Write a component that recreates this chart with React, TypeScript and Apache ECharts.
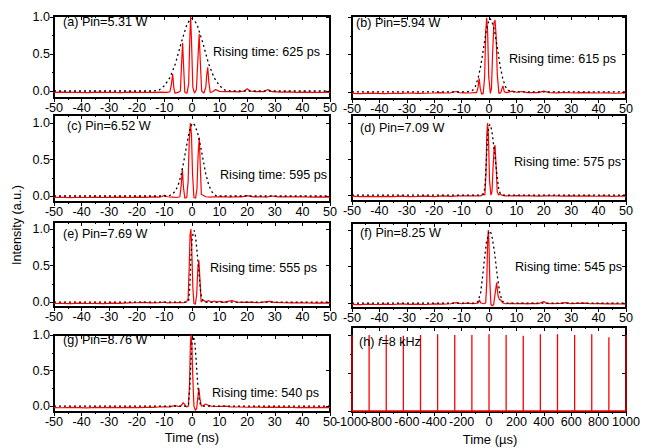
import React, { useEffect, useRef } from "react";
import * as echarts from "echarts";

const FONT = "'Liberation Sans', Arial, Helvetica, sans-serif";
const FS = 12.6;

// ---------- text / categories ----------
const panelLabels = [
  "(a) Pin=5.31 W",
  "(b) Pin=5.94 W",
  "(c) Pin=6.52 W",
  "(d) Pin=7.09 W",
  "(e) Pin=7.69 W",
  "(f) Pin=8.25 W",
  "(g) Pin=8.76 W",
];
const risingTimes = ["625 ps", "615 ps", "595 ps", "575 ps", "555 ps", "545 ps", "540 ps"];
const yMajorTicks = [0, 0.5, 1.0];
const yMinorTicks = [0.25, 0.75];
const usLabelsA = [-1000, -600, -200, 200, 600, 1000];
const usLabelsB = [-800, -400, 0, 400, 800];

// ---------- measured pulse traces (time ns, intensity) ----------
const redA: [number, number][] = [
  [-50, -0.02], [-47, -0.015], [-44, -0.02], [-41, -0.018], [-38, -0.022], [-35, -0.015], [-32, -0.02],
  [-29, -0.017], [-26, -0.022], [-23, -0.015], [-20, -0.02], [-17, -0.018], [-14, -0.02], [-11, -0.015],
  [-9, -0.02], [-8, -0.01], [-7.5, 0.08], [-7.0, 0.23], [-6.6, 0.05], [-6.2, -0.03], [-5, -0.02],
  [-4.2, 0.0], [-3.8, 0.35], [-3.4, 0.65], [-3.0, 0.3], [-2.6, -0.02], [-1.8, -0.03], [-1.2, 0.1],
  [-0.8, 0.7], [-0.5, 1.0], [-0.2, 0.7], [0.3, 0.05], [0.9, -0.03], [1.6, 0.02], [2.1, 0.4], [2.6, 0.77],
  [3.0, 0.4], [3.5, 0.0], [4.3, -0.03], [5.0, 0.05], [5.3, 0.2], [5.7, 0.32], [6.1, 0.12], [6.6, -0.02],
  [7.5, -0.01], [8.5, 0.02], [10, -0.005], [12, -0.01], [15, -0.01], [17, -0.012], [19, 0.0], [20, 0.03],
  [21, 0.0], [23, -0.01], [26, -0.01], [27.5, 0.02], [29, -0.01], [32, -0.015], [35, -0.012], [38, -0.018],
  [41, -0.015], [44, -0.02], [47, -0.018], [50, -0.02],
];
const dashA: [number, number][] = [
  [-50, 0], [-14, 0], [-12, 0.01], [-10, 0.07], [-8, 0.18], [-6, 0.37], [-4, 0.64], [-2, 0.88], [-1, 0.95],
  [0, 0.98], [1, 0.95], [2, 0.88], [4, 0.64], [6, 0.37], [8, 0.18], [10, 0.07], [12, 0.01], [14, 0], [50, 0],
];

const redB: [number, number][] = [
  [-50, -0.02], [-47, -0.022], [-44, -0.017], [-41, -0.02], [-38, -0.024], [-35, -0.018], [-32, -0.02],
  [-29, -0.015], [-26, -0.02], [-23, -0.018], [-20, -0.015], [-18, -0.01], [-16, -0.015], [-14, -0.012],
  [-12, 0.005], [-11, -0.01], [-9, -0.012], [-7, -0.015], [-5.5, -0.01], [-4.5, -0.01], [-4.0, 0.06],
  [-3.6, 0.18], [-3.2, 0.05], [-2.7, -0.03], [-2.1, -0.02], [-1.6, 0.2], [-1.2, 0.8], [-0.85, 0.99],
  [-0.5, 0.8], [-0.1, 0.2], [0.5, -0.02], [0.9, 0.05], [1.3, 0.5], [1.8, 0.92], [2.2, 0.96], [2.6, 0.75],
  [3.0, 0.25], [3.6, -0.02], [4.3, -0.01], [4.8, 0.05], [5.1, 0.08], [5.6, 0.0], [6.5, -0.01], [7.5, 0.0],
  [8.5, 0.01], [10, -0.005], [12, 0.005], [14, -0.01], [16, -0.008], [18, -0.01], [20, 0.01], [22, -0.01],
  [25, -0.012], [28, -0.008], [31, -0.015], [34, -0.01], [37, -0.012], [40, -0.015], [43, -0.012],
  [46, -0.018], [50, -0.015],
];
const dashB: [number, number][] = [
  [-50, 0], [-8, 0], [-6, 0.02], [-5, 0.07], [-4, 0.18], [-3, 0.35], [-2, 0.58], [-1, 0.82], [0, 0.96],
  [0.4, 0.98], [1, 0.95], [2, 0.82], [3, 0.6], [4, 0.36], [5, 0.18], [6, 0.07], [7, 0.02], [9, 0], [50, 0],
];

const redC: [number, number][] = [
  [-50, -0.02], [-47, -0.018], [-44, -0.022], [-41, -0.017], [-38, -0.02], [-35, -0.015], [-32, -0.02],
  [-29, -0.018], [-26, -0.015], [-23, -0.02], [-20, -0.016], [-17, -0.018], [-14, -0.012], [-12, -0.015],
  [-11, -0.01], [-10, 0.01], [-9, -0.01], [-7, -0.015], [-5.5, -0.02], [-4.4, -0.01], [-3.9, 0.15],
  [-3.5, 0.37], [-3.1, 0.12], [-2.6, -0.03], [-1.9, -0.02], [-1.4, 0.2], [-1.0, 0.75], [-0.6, 1.0],
  [-0.2, 0.85], [0.2, 0.3], [0.7, -0.02], [1.3, -0.03], [1.8, 0.1], [2.2, 0.55], [2.65, 0.8], [3.0, 0.4],
  [3.4, 0.02], [4.0, 0.01], [5, -0.01], [6.5, -0.015], [8, -0.01], [10, -0.012], [12, -0.01], [14, -0.015],
  [16, -0.01], [18, -0.012], [20, 0.005], [22, -0.012], [25, -0.01], [27, -0.015], [29, 0.0], [31, -0.012],
  [34, -0.01], [37, -0.012], [40, -0.01], [43, -0.015], [46, -0.012], [50, -0.015],
];
const dashC: [number, number][] = [
  [-50, 0], [-9, 0], [-8, 0.01], [-7, 0.03], [-6, 0.07], [-5, 0.15], [-4, 0.28], [-3, 0.47], [-2, 0.68],
  [-1, 0.88], [0, 0.99], [0.3, 1.0], [1, 0.97], [2, 0.87], [3, 0.7], [4, 0.5], [5, 0.3], [6, 0.16],
  [7, 0.07], [8, 0.02], [9, 0], [50, 0],
];

const redD: [number, number][] = [
  [-50, -0.015], [-47, -0.02], [-44, -0.017], [-41, -0.022], [-38, -0.018], [-35, -0.02], [-32, -0.015],
  [-29, -0.02], [-26, -0.018], [-23, -0.015], [-20, -0.02], [-17, -0.012], [-14, -0.018], [-11, -0.01],
  [-8, -0.01], [-5, -0.012], [-3, -0.01], [-2, 0.01], [-1.5, 0.0], [-1.1, 0.3], [-0.8, 0.85], [-0.5, 1.0],
  [-0.2, 0.8], [0.2, 0.2], [0.7, 0.0], [1.1, 0.05], [1.5, 0.4], [1.9, 0.66], [2.2, 0.69], [2.6, 0.4],
  [3.0, 0.05], [3.5, 0.0], [4, 0.015], [5, -0.005], [6, -0.01], [8, -0.012], [10, -0.008], [12, -0.012],
  [15, -0.01], [18, -0.015], [21, -0.01], [24, -0.012], [27, -0.015], [30, -0.01], [33, -0.015],
  [36, -0.012], [39, -0.016], [42, -0.012], [45, -0.018], [48, -0.014], [50, -0.016],
];
const dashD: [number, number][] = [
  [-50, 0], [-3, 0], [-2, 0.02], [-1.5, 0.1], [-1, 0.45], [-0.5, 0.82], [0, 0.96], [0.4, 0.98], [1, 0.9],
  [1.5, 0.76], [2, 0.58], [2.5, 0.42], [3, 0.25], [3.5, 0.1], [4, 0.03], [5, 0], [50, 0],
];

const redE: [number, number][] = [
  [-50, -0.02], [-47, -0.018], [-44, -0.022], [-41, -0.015], [-38, -0.02], [-35, -0.017], [-32, -0.021],
  [-29, -0.015], [-26, -0.018], [-23, -0.012], [-20, -0.01], [-18, -0.005], [-15, -0.012], [-12, -0.01],
  [-10, 0.0], [-9, -0.012], [-7, -0.01], [-5, -0.008], [-3, -0.01], [-2, 0.0], [-1.4, 0.05], [-1.0, 0.5],
  [-0.7, 0.92], [-0.4, 1.0], [-0.1, 0.75], [0.3, 0.2], [0.7, -0.02], [1.2, -0.03], [1.7, 0.1], [2.1, 0.45],
  [2.5, 0.57], [2.9, 0.3], [3.3, 0.0], [4, 0.03], [5, 0.0], [6, 0.02], [7, -0.005], [8, 0.015], [9, -0.005],
  [10, 0.01], [11.5, -0.005], [13, 0.01], [14.5, 0.02], [16, 0.0], [18, -0.005], [20, 0.0], [22, -0.005],
  [24, -0.01], [26, 0.0], [28, 0.01], [30, -0.005], [33, -0.01], [36, -0.012], [40, -0.01], [44, -0.015],
  [47, -0.012], [50, -0.015],
];
const dashE: [number, number][] = [
  [-50, 0], [-2, 0], [-1.2, 0.02], [-0.8, 0.2], [-0.4, 0.6], [0, 0.85], [0.5, 0.96], [0.8, 0.98],
  [1.2, 0.92], [1.6, 0.78], [2.0, 0.62], [2.5, 0.4], [3, 0.18], [3.5, 0.05], [4, 0.01], [5, 0], [50, 0],
];

const redF: [number, number][] = [
  [-50, -0.018], [-47, -0.022], [-44, -0.016], [-41, -0.02], [-38, -0.015], [-35, -0.02], [-32, -0.012],
  [-29, -0.018], [-26, -0.014], [-23, -0.02], [-20, -0.012], [-17, -0.016], [-14, -0.01], [-12, 0.005],
  [-10, -0.01], [-8, 0.0], [-6, -0.008], [-5, -0.005], [-4, 0.0], [-3.5, 0.04], [-3, 0.0], [-2, -0.01],
  [-1.2, 0.0], [-0.8, 0.3], [-0.5, 0.85], [-0.25, 1.0], [0.0, 0.8], [0.3, 0.3], [0.7, -0.02], [1.2, -0.04],
  [1.7, -0.02], [2.2, 0.12], [2.8, 0.28], [3.3, 0.1], [3.8, 0.05], [4.3, 0.04], [5, 0.0], [6, -0.01],
  [8, -0.005], [10, -0.01], [12, -0.005], [14, -0.012], [16, -0.005], [18, -0.01], [20, 0.02], [21, -0.005],
  [23, -0.01], [26, -0.005], [28, 0.005], [30, -0.01], [32, -0.005], [35, 0.0], [37, -0.01], [40, -0.008],
  [43, -0.012], [46, -0.01], [50, -0.015],
];
const dashF: [number, number][] = [
  [-50, 0], [-5, 0], [-4, 0.02], [-3, 0.15], [-2, 0.48], [-1, 0.82], [0, 0.97], [0.4, 0.99], [1, 0.93],
  [2, 0.7], [3, 0.38], [4, 0.12], [5, 0.02], [6, 0], [50, 0],
];

const redG: [number, number][] = [
  [-50, -0.02], [-47, -0.022], [-44, -0.018], [-41, -0.02], [-38, -0.024], [-35, -0.018], [-32, -0.02],
  [-29, -0.016], [-26, -0.02], [-23, -0.018], [-20, -0.02], [-17, -0.016], [-14, -0.018], [-12, -0.012],
  [-10, -0.01], [-8, -0.012], [-7, 0.0], [-6, 0.01], [-5, -0.005], [-4, 0.0], [-3.2, 0.05], [-2.6, 0.02],
  [-2.0, -0.01], [-1.3, 0.0], [-0.9, 0.3], [-0.6, 0.85], [-0.35, 1.0], [-0.05, 0.86], [0.3, 0.4],
  [0.7, 0.0], [1.2, -0.06], [1.7, -0.03], [2.1, 0.12], [2.5, 0.25], [2.9, 0.1], [3.4, 0.0], [4, 0.01],
  [5, 0.03], [6, 0.01], [7, 0.0], [9, -0.005], [12, 0.0], [14, -0.01], [17, -0.012], [20, -0.015],
  [23, -0.012], [26, -0.016], [29, -0.014], [32, -0.018], [35, -0.015], [38, -0.02], [41, -0.016],
  [44, -0.02], [47, -0.018], [50, -0.02],
];
const dashG: [number, number][] = [
  [-50, 0], [-2, 0], [-1.3, 0.02], [-0.8, 0.25], [-0.4, 0.62], [0, 0.88], [0.5, 0.98], [1, 0.9],
  [1.5, 0.65], [2, 0.35], [2.5, 0.12], [3, 0.03], [4, 0], [50, 0],
];

// ---------- panel (h): 8 kHz pulse train (time µs, intensity) ----------
const pulsePositions = [-1000, -875, -750, -625, -500, -375, -250, -125, 0, 125, 250, 375, 500, 625, 750, 875, 1000];
const pulseHeights = [1.0, 1.0, 1.0, 0.99, 1.0, 1.01, 1.0, 1.0, 1.01, 1.0, 0.99, 1.01, 1.01, 1.0, 1.01, 0.97, 1.0];

const redTraces = [redA, redB, redC, redD, redE, redF, redG];
const dashTraces = [dashA, dashB, dashC, dashD, dashE, dashF, dashG];

// ---------- layout (px) ----------
type Lay = { left: number; top: number; width: number; height: number; ymin: number; ymax: number; us?: boolean };
const layout: Lay[] = [
  { left: 54, top: 16, width: 276, height: 82, ymin: -0.095, ymax: 1.014 },
  { left: 352, top: 16, width: 274, height: 83, ymin: -0.095, ymax: 1.014 },
  { left: 54, top: 115, width: 276, height: 87, ymin: -0.082, ymax: 1.11 },
  { left: 352, top: 115, width: 274, height: 86, ymin: -0.082, ymax: 1.11 },
  { left: 54, top: 222, width: 276, height: 85, ymin: -0.068, ymax: 1.096 },
  { left: 352, top: 223, width: 274, height: 85, ymin: -0.068, ymax: 1.096 },
  { left: 54, top: 335, width: 276, height: 77, ymin: -0.082, ymax: 1.0 },
  { left: 352, top: 327, width: 274, height: 85, ymin: -0.013, ymax: 1.105, us: true },
];
const labelPos = [
  [63, 22], [356, 22.5], [67, 126], [360, 127.5], [63, 234], [360, 233], [63, 340],
];
const risingPos = [
  [213, 52], [509, 59], [220, 175], [514, 162], [210, 268], [515, 267], [212, 393],
];

function buildOption() {
  const grid: any[] = [];
  const xAxis: any[] = [];
  const yAxis: any[] = [];
  const series: any[] = [];
  const tickStyle = { color: "#000", width: 1 };
  const labelStyle = { fontSize: FS, color: "#000", fontFamily: FONT, margin: 3, showMinLabel: true, showMaxLabel: true, hideOverlap: false };
  let xi = 0;
  let yi = 0;

  layout.forEach((L, i) => {
    grid.push({
      left: L.left, top: L.top, width: L.width, height: L.height,
      show: true, borderColor: "#000", borderWidth: 2, backgroundColor: "transparent",
      containLabel: false, outerBoundsMode: "none",
    });
    const xmin = L.us ? -1000 : -50;
    const xmax = L.us ? 1000 : 50;
    const xint = L.us ? 200 : 10;
    const mainX = xi;
    xAxis.push({
      type: "value", gridIndex: i, position: "bottom", min: xmin, max: xmax, interval: xint,
      axisLine: { show: false, onZero: false },
      axisTick: { show: true, inside: false, length: 4, lineStyle: tickStyle },
      minorTick: { show: true, splitNumber: 2, length: 2, lineStyle: tickStyle },
      splitLine: { show: false }, minorSplitLine: { show: false },
      axisLabel: L.us
        ? { ...labelStyle, customValues: usLabelsA, formatter: (v: number) => String(v) }
        : { ...labelStyle, formatter: (v: number) => String(v) },
    });
    xi++;
    if (L.us) {
      xAxis.push({
        type: "value", gridIndex: i, position: "bottom", min: xmin, max: xmax, interval: xint,
        axisLine: { show: false, onZero: false }, axisTick: { show: false }, minorTick: { show: false },
        splitLine: { show: false },
        axisLabel: { ...labelStyle, customValues: usLabelsB, formatter: (v: number) => String(v) },
      });
      xi++;
    }
    xAxis.push({
      type: "value", gridIndex: i, position: "top", min: xmin, max: xmax, interval: xint,
      axisLine: { show: false, onZero: false },
      axisTick: { show: true, inside: true, length: 4, lineStyle: tickStyle },
      minorTick: { show: true, splitNumber: 2, length: 2, lineStyle: tickStyle },
      splitLine: { show: false }, axisLabel: { show: false },
    });
    xi++;
    const showY = i % 2 === 0;
    const mainY = yi;
    yAxis.push({
      type: "value", gridIndex: i, position: "left", min: L.ymin, max: L.ymax,
      axisLine: { show: false, onZero: false },
      axisTick: { show: true, inside: false, length: 4, customValues: yMajorTicks, lineStyle: tickStyle },
      splitLine: { show: false },
      axisLabel: {
        show: showY, customValues: yMajorTicks, fontSize: FS, color: "#000", fontFamily: FONT, margin: 4,
        formatter: (v: number) => v.toFixed(1),
      },
    });
    yAxis.push({
      type: "value", gridIndex: i, position: "left", min: L.ymin, max: L.ymax,
      axisLine: { show: false, onZero: false },
      axisTick: { show: true, inside: false, length: 2, customValues: yMinorTicks, lineStyle: tickStyle },
      splitLine: { show: false }, axisLabel: { show: false },
    });
    yAxis.push({
      type: "value", gridIndex: i, position: "right", min: L.ymin, max: L.ymax,
      axisLine: { show: false, onZero: false },
      axisTick: { show: true, inside: true, length: 4, customValues: yMajorTicks, lineStyle: tickStyle },
      splitLine: { show: false }, axisLabel: { show: false },
    });
    yi += 3;

    if (i < 7) {
      series.push({
        type: "line", xAxisIndex: mainX, yAxisIndex: mainY, data: redTraces[i],
        symbol: "none", showSymbol: false, clip: true,
        lineStyle: { color: "#ff0000", width: 1.2 }, z: 2,
      });
      series.push({
        type: "line", xAxisIndex: mainX, yAxisIndex: mainY, data: dashTraces[i],
        symbol: "none", showSymbol: false, clip: true,
        lineStyle: { color: "#000", width: 1.3, type: [2, 3] }, z: 3,
      });
    } else {
      const pts: [number, number][] = [];
      pulsePositions.forEach((p, k) => {
        pts.push([p, 0], [p, pulseHeights[k]], [p, 0]);
      });
      series.push({
        type: "line", xAxisIndex: mainX, yAxisIndex: mainY, data: pts,
        symbol: "none", showSymbol: false, clip: true,
        lineStyle: { color: "#ff0000", width: 1.3 }, z: 2,
      });
    }
  });

  const graphic: any[] = [];
  panelLabels.forEach((t, i) => {
    graphic.push({
      type: "text", x: labelPos[i][0], y: labelPos[i][1], z: 10,
      style: { text: t, fontSize: FS, fontFamily: FONT, fill: "#000", align: "left", verticalAlign: "middle" },
    });
    graphic.push({
      type: "text", x: risingPos[i][0], y: risingPos[i][1], z: 10,
      style: {
        text: "Rising time: " + risingTimes[i], fontSize: FS, fontFamily: FONT, fill: "#000",
        align: "left", verticalAlign: "middle",
      },
    });
  });
  graphic.push({
    type: "text", x: 359, y: 342, z: 10,
    style: {
      text: "{n|(h) }{i|f}{n|=8 kHz}", align: "left", verticalAlign: "middle",
      rich: {
        n: { fontSize: FS, fontFamily: FONT, fill: "#000", color: "#000" },
        i: { fontSize: FS, fontFamily: FONT, fontStyle: "italic", fill: "#000", color: "#000" },
      },
    },
  });
  graphic.push({
    type: "text", x: 17, y: 225, rotation: Math.PI / 2, z: 10,
    style: { text: "Intensity (a.u.)", fontSize: FS, fontFamily: FONT, fill: "#000", align: "center", verticalAlign: "middle" },
  });
  graphic.push({
    type: "text", x: 192, y: 437, z: 10,
    style: { text: "Time (ns)", fontSize: 13, fontFamily: FONT, fill: "#000", align: "center", verticalAlign: "middle" },
  });
  graphic.push({
    type: "text", x: 490, y: 439, z: 10,
    style: { text: "Time (\u00b5s)", fontSize: 13, fontFamily: FONT, fill: "#000", align: "center", verticalAlign: "middle" },
  });

  return {
    animation: false,
    backgroundColor: "#ffffff",
    grid, xAxis, yAxis, series, graphic,
  };
}

export default function App() {
  const ref = useRef<HTMLDivElement>(null);
  useEffect(() => {
    if (!ref.current) return;
    const chart = echarts.init(ref.current, undefined, { renderer: "svg" });
    chart.setOption(buildOption() as any);
    return () => chart.dispose();
  }, []);
  return (
    <div
      ref={ref}
      style={{ position: "fixed", left: 0, top: 0, width: 649, height: 448, background: "#fff" }}
    />
  );
}
